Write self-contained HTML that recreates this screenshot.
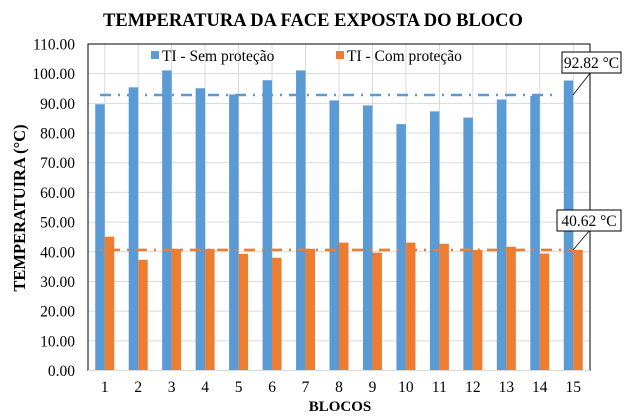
<!DOCTYPE html><html><head><meta charset="utf-8"><style>html,body{margin:0;padding:0;background:#fff}svg{display:block}text{font-family:"Liberation Serif",serif}</style></head><body>
<svg id="s" width="627" height="416" xmlns="http://www.w3.org/2000/svg"></svg>
<script>
const B=[89.7,95.4,101.1,95.1,93,97.8,101.1,91,89.3,83,87.3,85.2,91.3,92.5,97.7];
const O=[45.1,37.3,41,41,39.3,38,41,43.1,39.7,43.1,42.7,40.6,41.7,39.4,40.6];
const L=88,R=590,T=44,Bt=370.5,k=(Bt-T)/110,cw=(R-L)/15;
const y=v=>Bt-v*k;
let s='<rect x="0" y="0" width="627" height="416" fill="#fff"/>';
s+='<text x="313" y="26" text-anchor="middle" font-size="18.5" font-weight="bold">TEMPERATURA DA FACE EXPOSTA DO BLOCO</text>';
for(let i=0;i<=11;i++){const yy=y(i*10);
 if(i>0)s+=`<line x1="${L}" x2="${R}" y1="${yy}" y2="${yy}" stroke="#d9d9d9" stroke-width="1"/>`;
 s+=`<text x="75" y="${yy+5.5}" text-anchor="end" font-size="15.5">${(i*10).toFixed(2)}</text>`;}
for(let i=0;i<15;i++){const cx=L+cw*(i+0.5);
 s+=`<line x1="${cx}" x2="${cx}" y1="${T}" y2="${Bt}" stroke="#d9d9d9"/>`;}
for(let i=0;i<15;i++){const cx=L+cw*(i+0.5);
 s+=`<rect x="${cx-9.5}" y="${y(B[i])}" width="9.5" height="${B[i]*k}" fill="#5b9bd5"/>`;
 s+=`<rect x="${cx}" y="${y(O[i])}" width="9.5" height="${O[i]*k}" fill="#ed7d31"/>`;
 s+=`<text x="${cx}" y="392" text-anchor="middle" font-size="15.5">${i+1}</text>`;}
s+=`<line x1="100" x2="555" y1="${y(92.82)}" y2="${y(92.82)}" stroke="#5b9bd5" stroke-width="2.5" stroke-dasharray="11,7,2,7"/>`;
s+=`<line x1="100" x2="574" y1="${y(40.62)}" y2="${y(40.62)}" stroke="#ed7d31" stroke-width="2.5" stroke-dasharray="2,7,11,7"/>`;
s+=`<rect x="${L}" y="${T}" width="${R-L}" height="${Bt-T}" fill="none" stroke="#000" stroke-width="1"/>`;
s+=`<line x1="${L}" x2="${R}" y1="${Bt}" y2="${Bt}" stroke="#d9d9d9"/>`;
s+=`<line x1="573" y1="95" x2="591" y2="72" stroke="#000" stroke-width="0.8"/>`;
s+=`<line x1="573" y1="250" x2="590" y2="230" stroke="#000" stroke-width="0.8"/>`;
s+=`<rect x="562" y="52" width="59" height="21" fill="#fff" stroke="#000"/><text x="591.5" y="68" text-anchor="middle" font-size="15.5">92.82 °C</text>`;
s+=`<rect x="557" y="210" width="64" height="21" fill="#fff" stroke="#000"/><text x="589" y="226" text-anchor="middle" font-size="15.5">40.62 °C</text>`;
s+=`<rect x="151" y="51" width="8" height="8" fill="#5b9bd5"/><text x="162" y="61" font-size="15.5">TI - Sem proteção</text>`;
s+=`<rect x="336" y="51" width="8" height="8" fill="#ed7d31"/><text x="347" y="61" font-size="15.5">TI - Com proteção</text>`;
s+=`<text x="340" y="411" text-anchor="middle" font-size="15" font-weight="bold">BLOCOS</text>`;
s+=`<text transform="translate(25,208) rotate(-90)" text-anchor="middle" font-size="16.5" font-weight="bold">TEMPERATUIRA (°C)</text>`;
document.getElementById('s').innerHTML=s;
</script></body></html>
